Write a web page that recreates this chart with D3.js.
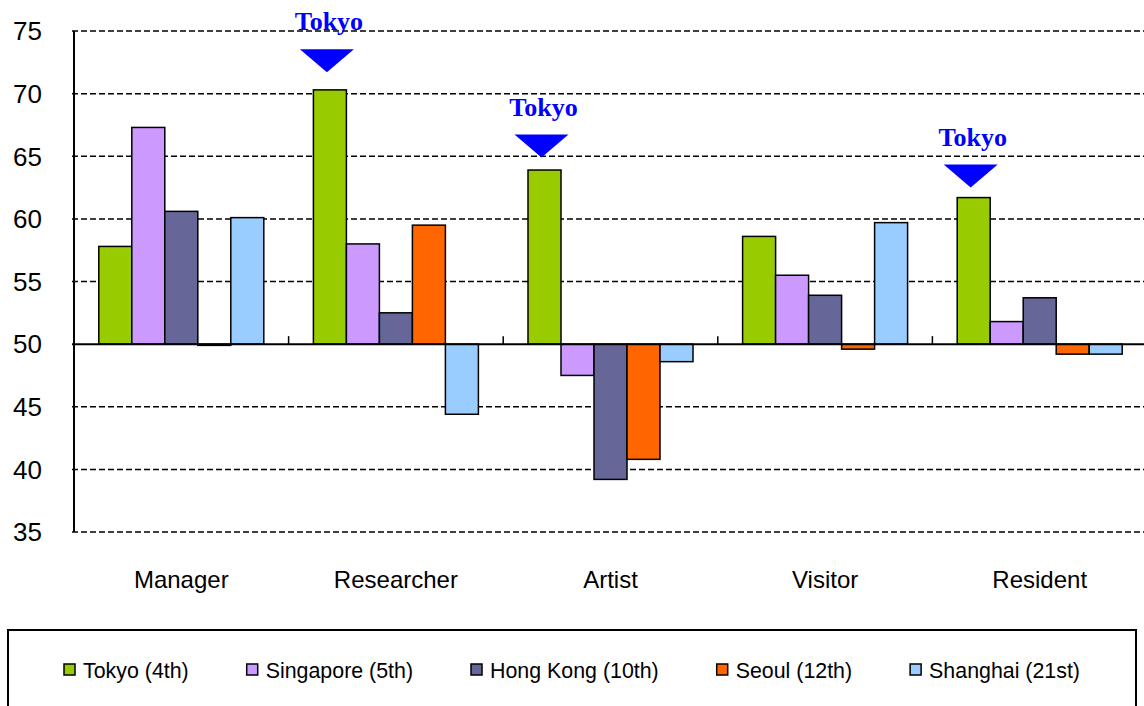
<!DOCTYPE html>
<html>
<head>
<meta charset="utf-8">
<script src="https://cdn.jsdelivr.net/npm/d3@7"></script>
<style>
  body { margin: 0; background: #fff; }
  svg { display: block; }
</style>
</head>
<body>
<svg id="chart" width="1144" height="706"></svg>
<script>
// data
const categories = ["Manager", "Researcher", "Artist", "Visitor", "Resident"];
const cities = ["Tokyo (4th)", "Singapore (5th)", "Hong Kong (10th)", "Seoul (12th)", "Shanghai (21st)"];
const tokyo     = [57.8, 70.3, 63.9, 58.6, 61.7];
const singapore = [67.3, 58.0, 47.5, 55.5, 51.8];
const hongKong  = [60.6, 52.5, 39.2, 53.9, 53.7];
const seoul     = [49.9, 59.5, 40.8, 49.6, 49.2];
const shanghai  = [60.1, 44.4, 48.6, 59.7, 49.2];
const yTicks = [35, 40, 45, 50, 55, 60, 65, 70, 75];
const colors = ["#99cc00", "#cc99ff", "#666699", "#ff6600", "#99ccff"];
// "Tokyo" markers: category and value at the arrow tip
const markerCats = ["Researcher", "Artist", "Resident"];
const markerTips = [71.7, 64.9, 62.5];

const series = [tokyo, singapore, hongKong, seoul, shanghai];
const baseline = 50;

const svg = d3.select("#chart");
const width = +svg.attr("width");

const left = 74;
const bandW = 214.6;

const x0 = d3.scaleBand()
    .domain(categories)
    .range([left, left + bandW * categories.length])
    .padding(0);

const x1 = d3.scaleBand()
    .domain(d3.range(series.length))
    .range([24.8, bandW - 24.8])
    .padding(0);

const y = d3.scaleLinear()
    .domain([35, 75])
    .range([532, 31]);

// dashed gridlines
svg.append("g")
    .selectAll("line")
    .data(yTicks.filter(t => t !== baseline))
    .join("line")
    .attr("x1", left - 2)
    .attr("x2", width)
    .attr("y1", d => y(d))
    .attr("y2", d => y(d))
    .attr("stroke", "#000")
    .attr("stroke-width", 1.5)
    .attr("stroke-dasharray", "6,3");

// y axis labels
svg.append("g")
    .selectAll("text")
    .data(yTicks)
    .join("text")
    .attr("x", 42)
    .attr("y", d => y(d))
    .attr("dy", "0.36em")
    .attr("text-anchor", "end")
    .attr("font-family", "Liberation Sans, Arial, sans-serif")
    .attr("font-size", 26)
    .attr("fill", "#000")
    .text(d => d);

// bars
const rows = [];
categories.forEach((c, i) => {
    series.forEach((s, j) => rows.push({ cat: c, idx: j, value: s[i] }));
});

svg.append("g")
    .selectAll("rect")
    .data(rows)
    .join("rect")
    .attr("x", d => x0(d.cat) + x1(d.idx))
    .attr("width", x1.bandwidth())
    .attr("y", d => y(Math.max(d.value, baseline)))
    .attr("height", d => Math.abs(y(d.value) - y(baseline)))
    .attr("fill", d => colors[d.idx])
    .attr("stroke", "#000")
    .attr("stroke-width", 1.5);

// y axis line
svg.append("line")
    .attr("x1", left).attr("x2", left)
    .attr("y1", y(75)).attr("y2", y(35))
    .attr("stroke", "#000")
    .attr("stroke-width", 2);

// baseline at 50
svg.append("line")
    .attr("x1", left - 2).attr("x2", width)
    .attr("y1", y(baseline)).attr("y2", y(baseline))
    .attr("stroke", "#000")
    .attr("stroke-width", 2);

// category ticks on the baseline
svg.append("g")
    .selectAll("line")
    .data(categories.slice(1))
    .join("line")
    .attr("x1", d => x0(d))
    .attr("x2", d => x0(d))
    .attr("y1", y(baseline))
    .attr("y2", y(baseline) - 8)
    .attr("stroke", "#000")
    .attr("stroke-width", 1.5);

// category labels
svg.append("g")
    .selectAll("text")
    .data(categories)
    .join("text")
    .attr("x", d => x0(d) + bandW / 2)
    .attr("y", 588)
    .attr("text-anchor", "middle")
    .attr("font-family", "Liberation Sans, Arial, sans-serif")
    .attr("font-size", 24)
    .attr("fill", "#000")
    .text(d => d);

// Tokyo markers
const markers = svg.append("g");
markerCats.forEach((c, i) => {
    const cx = x0(c) + x1(0) + x1.bandwidth() / 2 - 3;
    const tip = y(markerTips[i]);
    markers.append("path")
        .attr("d", `M${cx - 27},${tip - 23} L${cx + 27},${tip - 23} L${cx},${tip} Z`)
        .attr("fill", "#0000ff");
    markers.append("text")
        .attr("x", cx + 2)
        .attr("y", tip - 42)
        .attr("text-anchor", "middle")
        .attr("font-family", "Liberation Serif, Times New Roman, serif")
        .attr("font-weight", "bold")
        .attr("font-size", 26)
        .attr("fill", "#0000ff")
        .text("Tokyo");
});

// legend
svg.append("rect")
    .attr("x", 8).attr("y", 630)
    .attr("width", 1128).attr("height", 100)
    .attr("fill", "none")
    .attr("stroke", "#000")
    .attr("stroke-width", 2);

const squeeze = 0.93;  // legend text in the source is narrow and tall
const legend = svg.append("g");
const items = cities.map((name, i) => {
    const g = legend.append("g");
    g.append("rect")
        .attr("x", 0).attr("y", 664)
        .attr("width", 11).attr("height", 11)
        .attr("fill", colors[i])
        .attr("stroke", "#000")
        .attr("stroke-width", 1.5);
    const t = g.append("text")
        .attr("transform", `translate(19,670) scale(${squeeze},1)`)
        .attr("dy", "0.36em")
        .attr("font-family", "Liberation Sans, Arial, sans-serif")
        .attr("font-size", 23)
        .attr("fill", "#000")
        .text(name);
    return { g, w: 19 + t.node().getComputedTextLength() * squeeze };
});
const gap = 58;
const total = d3.sum(items, d => d.w) + gap * (items.length - 1);
let cursor = 572 - total / 2;
items.forEach(it => {
    it.g.attr("transform", `translate(${cursor},0)`);
    cursor += it.w + gap;
});
</script>
</body>
</html>
